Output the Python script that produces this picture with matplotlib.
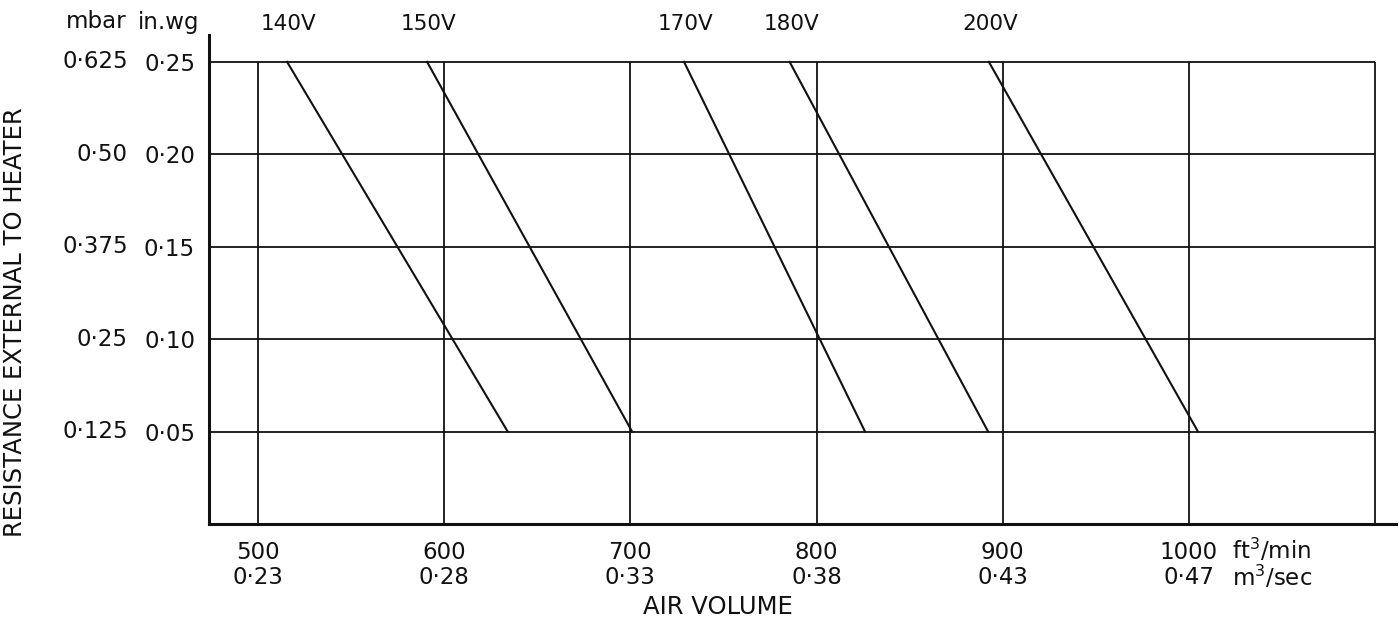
import matplotlib
matplotlib.use("Agg")
import matplotlib.pyplot as plt
import matplotlib.transforms as mtransforms

# ---- data ----
flow_cfm_ticks = [500, 600, 700, 800, 900, 1000, 1100]
flow_cfm_labels = ['500', '600', '700', '800', '900', '1000', '']
flow_m3s_labels = ['0·23', '0·28', '0·33', '0·38', '0·43', '0·47', '']
res_inwg_ticks = [0.05, 0.10, 0.15, 0.20, 0.25]
res_inwg_labels = ['0·05', '0·10', '0·15', '0·20', '0·25']
res_mbar_labels = ['0·125', '0·25', '0·375', '0·50', '0·625']
voltages = ['140V', '150V', '170V', '180V', '200V']
flow_at_025 = [515.6, 590.8, 728.8, 785.5, 892.5]   # air volume at 0.25 in.wg
flow_at_005 = [634.1, 700.9, 826.0, 892.1, 1004.8]  # air volume at 0.05 in.wg

FONT = 'DejaVu Sans'
FS = 16.5
plt.rcParams['font.family'] = [FONT]

W, H = 1399, 623
fig = plt.figure(figsize=(W / 100, H / 100), dpi=100)
x0, x1 = 209, 1396
y0, y1 = 524, 35
ax = fig.add_axes([x0 / W, 1 - y0 / H, (x1 - x0) / W, (y0 - y1) / H])

xmin = 500 - (258 - 209) / 186.2 * 100
xmax = 500 + (1396 - 258) / 186.2 * 100
ax.set_xlim(xmin, xmax)
ax.set_ylim(0, 0.25 + 27 / 93 * 0.05)

lc = '#111111'
lw = 1.3
# grid
for xv in flow_cfm_ticks:
    ax.plot([xv, xv], [0, res_inwg_ticks[-1]], color=lc, lw=lw, solid_capstyle='butt')
for yv in res_inwg_ticks:
    ax.plot([xmin, flow_cfm_ticks[-1]], [yv, yv], color=lc, lw=lw, solid_capstyle='butt')

# voltage lines
for v, xt, xb in zip(voltages, flow_at_025, flow_at_005):
    ax.plot([xt, xb], [0.25, 0.05], color=lc, lw=1.5)
    ax.text(xt + 1, 0.2705, v, ha='center', va='center', fontsize=15.5, color=lc)

for s in ['top', 'right']:
    ax.spines[s].set_visible(False)
for s in ['left', 'bottom']:
    ax.spines[s].set_linewidth(2.2)
    ax.spines[s].set_color(lc)

ax.set_xticks(flow_cfm_ticks)
ax.set_xticklabels([f'{a}\n{b}' if a else '' for a, b in zip(flow_cfm_labels, flow_m3s_labels)],
                   fontsize=FS, color=lc, linespacing=1.12)
ax.tick_params(axis='x', length=0, pad=12)
ax.set_yticks(res_inwg_ticks)
ax.set_yticklabels(res_inwg_labels, fontsize=FS, color=lc)
ax.tick_params(axis='y', length=0, pad=10)

# mbar column
off = mtransforms.ScaledTranslation(-81 / 100, 0, fig.dpi_scale_trans)
tr = ax.get_yaxis_transform() + off
for yv, lab in zip(res_inwg_ticks, res_mbar_labels):
    ax.text(0, yv, lab, ha='right', va='center', fontsize=FS, color=lc, transform=tr)

# headers
fig.text(126 / W, 1 - 22 / H, 'mbar', ha='right', va='center', fontsize=FS, color=lc)
fig.text(199 / W, 1 - 22 / H, 'in.wg', ha='right', va='center', fontsize=FS, color=lc)

# units
fig.text(1232 / W, 1 - 550 / H, 'ft$^3$/min', ha='left', va='center', fontsize=FS, color=lc)
fig.text(1232 / W, 1 - 577 / H, 'm$^3$/sec', ha='left', va='center', fontsize=FS, color=lc)

# axis titles
fig.text(718 / W, 1 - 607 / H, 'AIR VOLUME', ha='center', va='center', fontsize=17.5, color=lc)
fig.text(15 / W, 1 - 322 / H, 'RESISTANCE EXTERNAL TO HEATER', ha='center', va='center',
         rotation=90, fontsize=17.5, color=lc)

fig.savefig('out.png', dpi=100, facecolor='white')
